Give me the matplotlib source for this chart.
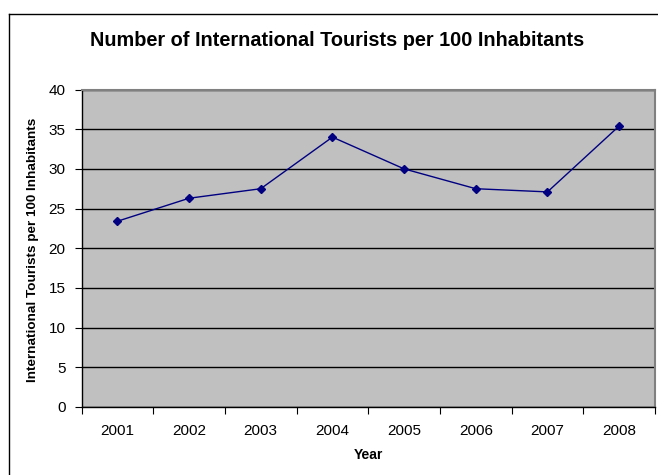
import matplotlib
matplotlib.use("Agg")
import matplotlib.pyplot as plt
from matplotlib.lines import Line2D

plt.rcParams["font.family"] = ["Liberation Sans", "DejaVu Sans"]

years = ["2001", "2002", "2003", "2004", "2005", "2006", "2007", "2008"]
tourists = [23.4, 26.3, 27.5, 34.0, 30.0, 27.5, 27.1, 35.4]
y_ticks = [0, 5, 10, 15, 20, 25, 30, 35, 40]

W, H = 658, 475
fig = plt.figure(figsize=(W / 100, H / 100), dpi=100)

# outer chart border (Excel chart area)
fig.add_artist(Line2D([9 / W, 9 / W], [0, 1 - 14 / H], color="black", lw=1.0, transform=fig.transFigure))
fig.add_artist(Line2D([9 / W, 1], [1 - 14 / H, 1 - 14 / H], color="black", lw=1.0, transform=fig.transFigure))

left, right, top, bottom = 81.5, 655, 89.5, 407
ax = fig.add_axes([left / W, 1 - bottom / H, (right - left) / W, (bottom - top) / H])
ax.set_facecolor("#C0C0C0")

x = list(range(1, len(years) + 1))
ax.plot(x, tourists, color="#000080", lw=1.0, marker="D", markersize=4.5, zorder=3)

ax.set_xlim(0.5, len(years) + 0.5)
ax.set_ylim(0, 40)
ax.set_yticks(y_ticks)
ax.set_xticks(x)
ax.set_xticklabels(years)
ax.set_xticks([i + 0.5 for i in range(len(years) + 1)], minor=True)
ax.tick_params(axis="x", which="major", length=0, pad=12, labelsize=11)
ax.tick_params(axis="x", which="minor", length=5, direction="out", width=0.8)
ax.tick_params(axis="y", length=5, direction="out", width=0.8, labelsize=11, pad=6.5)

ax.yaxis.grid(True, color="black", lw=1.0)
ax.set_axisbelow(True)

for side in ["top", "right"]:
    ax.spines[side].set_color("#808080")
    ax.spines[side].set_linewidth(1.5)
for side in ["left", "bottom"]:
    ax.spines[side].set_color("black")
    ax.spines[side].set_linewidth(1.0)

fig.text(368 / W, 1 - 455 / H, "Year", fontsize=10, fontweight="bold", ha="center", va="center")
fig.text(33 / W, 1 - 250 / H, "International Tourists per 100 Inhabitants", fontsize=9.7,
         fontweight="bold", rotation=90, ha="center", va="center")

fig.text(337 / W, 1 - 41 / H, "Number of International Tourists per 100 Inhabitants",
         fontsize=14.3, fontweight="bold", ha="center", va="center")

fig.savefig("out.png", dpi=100)
